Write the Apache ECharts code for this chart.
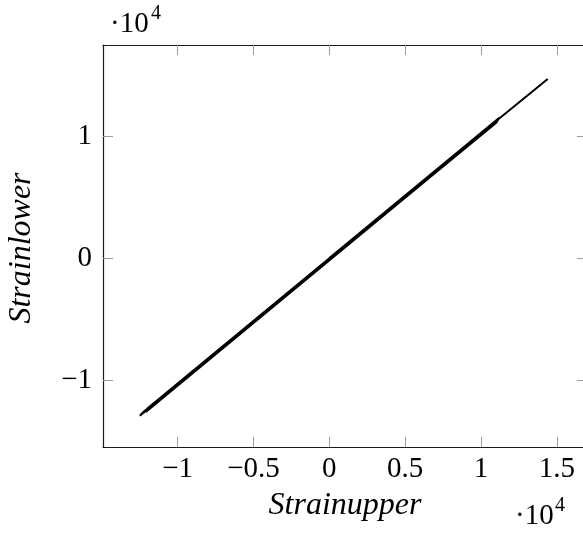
<!DOCTYPE html>
<html>
<head>
<meta charset="utf-8">
<script src="https://cdn.jsdelivr.net/npm/echarts@6/dist/echarts.min.js"></script>
<style>
  html, body { margin: 0; padding: 0; background: #fff; overflow: hidden; width: 583px; height: 534px; }
  /* the frame's right edge lies just past the visible page width */
  #chart { width: 600px; height: 534px; }
</style>
</head>
<body>
<div id="chart"></div>
<script>
// Strain gauge readings: upper vs. lower gauge over several loading cycles
const strainUpper = [0, 11200, 11000, -12490, -12300, 10500, 10300, -11800, -11600, 11000,
  10800, -12100, -12000, 9000, 11500, 14390];
const strainLower = [23, 11540, 11124, -12920, -12665, 10780, 10474, -12251, -11985, 11254,
  10939, -12609, -12337, 9258, 11788, 14720];

// Tick positions (raw units), labelled with a common ·10^4 factor
const xTicks = [-10000, -5000, 0, 5000, 10000, 15000];
const yTicks = [-10000, 0, 10000];
const scaleExp = 4;

const X_MIN = -14920, X_MAX = 16980, Y_MIN = -15490, Y_MAX = 17510;

const points = strainUpper.map((u, i) => [u, strainLower[i]]);

const FONT = '"Liberation Serif", "DejaVu Serif", serif';
const fmt = v => {
  const s = String(+(v / Math.pow(10, scaleExp)).toFixed(2));
  return s.replace('-', '\u2212');
};

const TICK_LEN = 10;
const TICK_COLOR = '#9a9a9a';
const tickStyle = { show: true, inside: true, length: TICK_LEN, lineStyle: { color: TICK_COLOR, width: 1 } };
const lineStyleAxis = { show: true, onZero: false, lineStyle: { color: '#1a1a1a', width: 1.2 } };

const chart = echarts.init(document.getElementById('chart'), null, { renderer: 'canvas' });
chart.setOption({
  animation: false,
  backgroundColor: '#fff',
  grid: { left: 103, top: 45, width: 484, height: 402, containLabel: false, outerBoundsMode: 'none' },
  xAxis: [
    {
      type: 'value', position: 'bottom', min: X_MIN, max: X_MAX,
      axisLine: lineStyleAxis,
      axisTick: Object.assign({ customValues: xTicks }, tickStyle),
      axisLabel: { customValues: xTicks, formatter: fmt, fontFamily: FONT, fontSize: 29, color: '#000', margin: 8 },
      splitLine: { show: false }
    },
    {
      type: 'value', position: 'top', min: X_MIN, max: X_MAX,
      axisLine: lineStyleAxis,
      axisTick: Object.assign({ customValues: xTicks }, tickStyle),
      axisLabel: { show: false },
      splitLine: { show: false }
    }
  ],
  yAxis: [
    {
      type: 'value', position: 'left', min: Y_MIN, max: Y_MAX,
      axisLine: lineStyleAxis,
      axisTick: Object.assign({ customValues: yTicks }, tickStyle),
      axisLabel: { customValues: yTicks, formatter: fmt, fontFamily: FONT, fontSize: 29, color: '#000', margin: 11 },
      splitLine: { show: false }
    }
  ],
  series: [{
    type: 'line',
    data: points,
    showSymbol: false,
    lineStyle: { color: '#000', width: 2 },
    z: 3
  }],
  graphic: [
    { id: 'scaleTopBase', type: 'text', left: 110, top: 10, style: { text: '\u00b710', font: '29px ' + FONT, fill: '#000' } },
    { id: 'scaleTopExp', type: 'text', left: 151, top: 4, style: { text: String(scaleExp), font: '20px ' + FONT, fill: '#000' } },
    { id: 'scaleBottomBase', type: 'text', left: 515, top: 502, style: { text: '\u00b710', font: '29px ' + FONT, fill: '#000' } },
    { id: 'scaleBottomExp', type: 'text', left: 555, top: 496, style: { text: String(scaleExp), font: '20px ' + FONT, fill: '#000' } },
    { id: 'xName', type: 'text', x: 345, y: 506, style: { text: 'Strainupper', font: 'italic 32px ' + FONT, fill: '#000', align: 'center', verticalAlign: 'middle' } },
    { id: 'yName', type: 'text', x: 22, y: 248, rotation: Math.PI / 2, style: { text: 'Strainlower', font: 'italic 32px ' + FONT, fill: '#000', align: 'center', verticalAlign: 'middle' } }
  ]
});

// Inward ticks on the right-hand frame edge, placed through the y scale
const rightTicks = yTicks.map((v, i) => {
  const p = chart.convertToPixel({ gridIndex: 0 }, [X_MAX, v]);
  const y = Math.round(p[1]) + 0.5;
  return {
    id: 'rightTick' + i,
    type: 'line',
    z: 10,
    shape: { x1: p[0] - TICK_LEN, y1: y, x2: p[0], y2: y },
    style: { stroke: TICK_COLOR, lineWidth: 1 }
  };
});
chart.setOption({ graphic: rightTicks });
</script>
</body>
</html>
